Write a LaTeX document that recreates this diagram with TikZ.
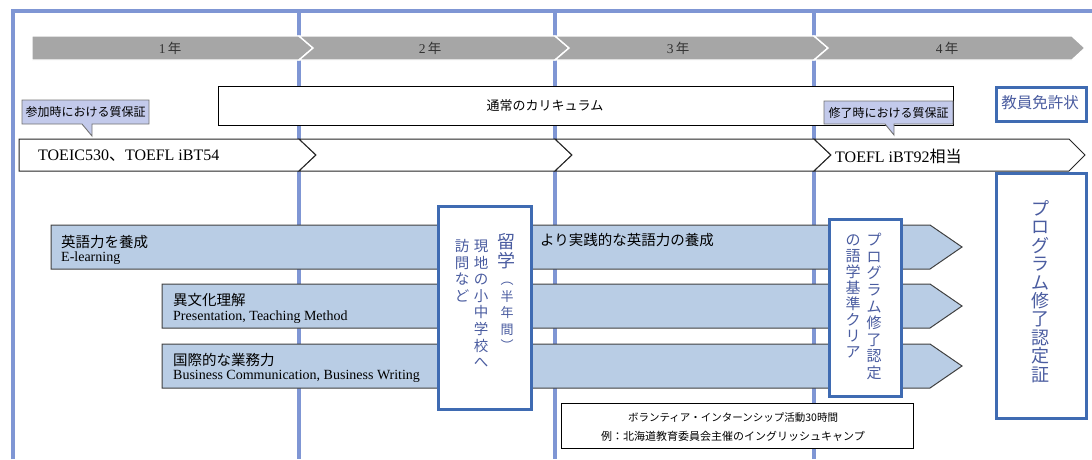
\documentclass[tikz,border=0pt]{standalone}
\usepackage{fontspec}
\setmainfont{Liberation Serif}
\newfontfamily\jp{Noto Sans CJK JP}
\definecolor{frameblue}{HTML}{7F96D4}
\definecolor{bandgray}{HTML}{A6A6A6}
\definecolor{lav}{HTML}{C3CAEB}
\definecolor{barfill}{HTML}{B9CDE5}
\definecolor{boxblue}{HTML}{3F6BB2}
\definecolor{txtblue}{HTML}{4A5CA0}
\tikzset{
  frameline/.style={draw=frameblue, line width=3.2},
  bandseg/.style={fill=bandgray, draw=white, line width=1.4},
  yearlbl/.style={font=\fontsize{13.5}{15}\selectfont, text=black!80, inner sep=0},
  whitebox/.style={draw=black, fill=white, line width=1.0, inner sep=0},
  callout/.style={draw=black!55, fill=lav, line width=0.9},
  lbltxt/.style={font=\jp\fontsize{12}{14}\selectfont, inner sep=0},
  chev/.style={draw=black!85, fill=white, line width=1.0},
  bigtxt/.style={font=\fontsize{16}{19}\selectfont, inner sep=0, anchor=west},
  bar/.style={fill=barfill, draw=black!75, line width=1.0},
  jptitle/.style={font=\jp\fontsize{14.5}{17}\selectfont, inner sep=0, anchor=west},
  entxt/.style={font=\fontsize{14}{16}\selectfont, inner sep=0, anchor=west},
  bluebox/.style={draw=boxblue, fill=white, line width=2.8, inner sep=0, anchor=north west},
  vchar/.style={font=\jp\fontsize{#1}{#1}\selectfont, text=txtblue, inner sep=0, anchor=base},
  voltxt/.style={font=\jp\fontsize{#1}{#1}\selectfont, inner sep=0},
}
\begin{document}
\begin{tikzpicture}[x=1pt,y=-1pt]
\useasboundingbox (0,0) rectangle (1092,459);
% frame and year dividers
\draw[frameline] (13,459) -- (13,11) -- (1092,11);
\foreach \x in {299,555,814} \draw[frameline] (\x,11) -- (\x,459);
% year band
\filldraw[bandseg] (32,36) -- (299,36) -- (313,48) -- (299,60) -- (32,60) -- cycle;
\filldraw[bandseg] (299,36) -- (555,36) -- (569,48) -- (555,60) -- (299,60) -- (313,48) -- cycle;
\filldraw[bandseg] (555,36) -- (814,36) -- (828,48) -- (814,60) -- (555,60) -- (569,48) -- cycle;
\filldraw[bandseg] (814,36) -- (1072,36) -- (1085,48) -- (1072,60) -- (814,60) -- (828,48) -- cycle;
\node[yearlbl] (y1) at (170,48) {1\,{\jp 年}};
\node[yearlbl] (y2) at (430,48) {2\,{\jp 年}};
\node[yearlbl] (y3) at (678,48) {3\,{\jp 年}};
\node[yearlbl] (y4) at (947,48) {4\,{\jp 年}};
% regular curriculum
\node[whitebox, minimum width=735, minimum height=39, anchor=north west] (cur) at (218,86) {};
\node[font=\jp\fontsize{13}{15}\selectfont, inner sep=0] (curtxt) at (545,106) {通常のカリキュラム};
% callouts
\filldraw[callout] (22,100) -- (149,100) -- (149,124) -- (92,124) -- (92,136) -- (82,124) -- (22,124) -- cycle;
\node[lbltxt] (lab1) at (85.5,112) {参加時における質保証};
\filldraw[callout] (824,101) -- (953,101) -- (953,124) -- (894,124) -- (894,135) -- (885,124) -- (824,124) -- cycle;
\node[lbltxt] (lab2) at (888.5,112.5) {修了時における質保証};
% teacher licence
\node[bluebox, minimum width=90, minimum height=34] (lic) at (995,86) {};
\node[font=\jp\fontsize{15.5}{18}\selectfont, text=txtblue, inner sep=0] (lictxt) at (1040,103) {教員免許状};
% score band
\filldraw[chev] (19,139) -- (299,139) -- (316,155) -- (299,171) -- (19,171) -- cycle;
\filldraw[chev] (299,139) -- (555,139) -- (572,155) -- (555,171) -- (299,171) -- (316,155) -- cycle;
\filldraw[chev] (555,139) -- (814,139) -- (831,155) -- (814,171) -- (555,171) -- (572,155) -- cycle;
\filldraw[chev] (814,139) -- (1069,139) -- (1085,155) -- (1069,171) -- (814,171) -- (831,155) -- cycle;
\node[bigtxt] (toeic) at (38,156) {TOEIC530{\jp 、}TOEFL iBT54};
\node[bigtxt] (toefl) at (835,156) {TOEFL iBT92{\jp 相当}};
% skill bars
\filldraw[bar] (51,225) -- (930,225) -- (962,247) -- (930,269) -- (51,269) -- cycle;
\filldraw[bar] (162,284) -- (930,284) -- (962,306) -- (930,328) -- (162,328) -- cycle;
\filldraw[bar] (162,344) -- (930,344) -- (962,366) -- (930,388) -- (162,388) -- cycle;
\node[jptitle] (b1a) at (61,242) {英語力を養成};
\node[entxt] (b1b) at (61,258) {E-learning};
\node[jptitle] (b1c) at (540,240) {より実践的な英語力の養成};
\node[jptitle] (b2a) at (173,300) {異文化理解};
\node[entxt] (b2b) at (173,317) {Presentation, Teaching Method};
\node[jptitle] (b3a) at (173,360) {国際的な業務力};
\node[entxt] (b3b) at (173,376) {Business Communication, Business Writing};
% study abroad box
\node[bluebox, minimum width=93, minimum height=203] (ryu) at (437,205) {};
\foreach \c [count=\i from 0] in {留,学}
  \node[vchar=18] (ra\i) at (506,{248.5+18.5*\i}) {\c};
\foreach \c [count=\i from 0] in {︵,半,年,間,︶}
  \node[vchar=13] (rb\i) at (507,{284.5+16.5*\i}) {\c};
\foreach \c [count=\i from 0] in {現,地,の,小,中,学,校,へ}
  \node[vchar=14.5] (rc\i) at (481,{251.5+16.6*\i}) {\c};
\foreach \c [count=\i from 0] in {訪,問,な,ど}
  \node[vchar=14.5] (rd\i) at (462,{251.5+16.6*\i}) {\c};
% programme language criteria box
\node[bluebox, minimum width=72, minimum height=177] (crit) at (828,218) {};
\foreach \c [count=\i from 0] in {プ,ロ,グ,ラ,ム,修,了,認,定}
  \node[vchar=15] (pa\i) at (874,{245.7+16.6*\i}) {\c};
\foreach \c [count=\i from 0] in {の,語,学,基,準,ク,リ,ア}
  \node[vchar=15] (pb\i) at (853,{245.7+16.0*\i}) {\c};
% programme certificate box
\node[bluebox, minimum width=90, minimum height=245] (cert) at (995,172) {};
\foreach \c [count=\i from 0] in {プ,ロ,グ,ラ,ム,修,了,認,定,証}
  \node[vchar=18] (pc\i) at (1040,{215.4+18.4*\i}) {\c};
% volunteer box
\node[whitebox, line width=1.4, minimum width=352, minimum height=45, anchor=north west] (vol) at (561,403) {};
\node[voltxt=10.5] (vol1) at (733,418) {ボランティア・インターンシップ活動30時間};
\node[voltxt=11] (vol2) at (733,436) {例：北海道教育委員会主催のイングリッシュキャンプ};
\end{tikzpicture}
\end{document}
